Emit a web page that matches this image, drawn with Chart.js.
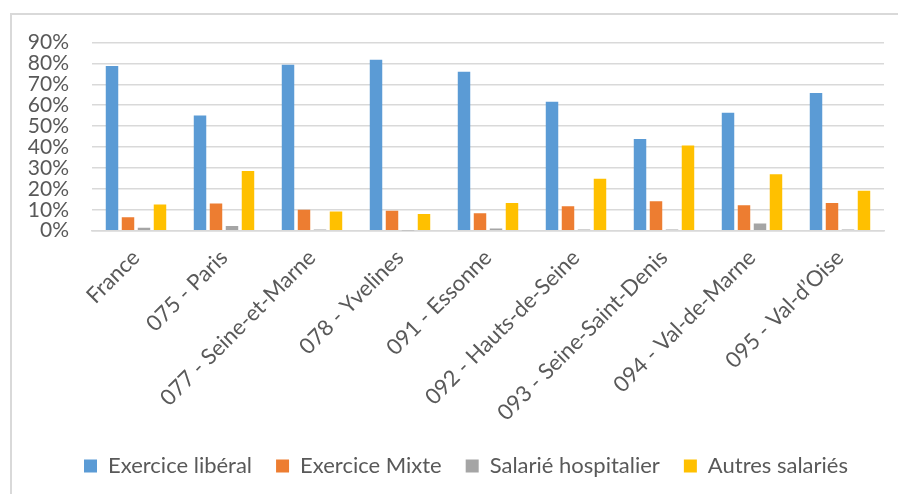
<!DOCTYPE html>
<html>
<head>
<meta charset="utf-8">
<script src="https://cdn.jsdelivr.net/npm/chart.js@4/dist/chart.umd.min.js"></script>
<style>
  html, body { margin: 0; padding: 0; background: #fff; overflow: hidden; width: 898px; height: 494px; }
  #frame { position: absolute; left: 10px; top: 13px; width: 920px; height: 500px;
           border-top: 2px solid #d9d9d9; border-left: 2px solid #d9d9d9; }
  #wrap { position: absolute; left: 0; top: 0; width: 910px; height: 472px; }
</style>
</head>
<body>
<div id="frame"><div id="wrap"><canvas id="c"></canvas></div></div>
<script>
const categories = ["France", "075 - Paris", "077 - Seine-et-Marne", "078 - Yvelines", "091 - Essonne",
  "092 - Hauts-de-Seine", "093 - Seine-Saint-Denis", "094 - Val-de-Marne", "095 - Val-d\u2019Oise"];
const seriesNames = ["Exercice libéral", "Exercice Mixte", "Salarié hospitalier", "Autres salariés"];
const exerciceLiberal    = [78.8, 55.1, 79.3, 81.7, 76.0, 61.7, 43.9, 56.4, 65.9];
const exerciceMixte      = [6.4, 13.0, 10.0, 9.5, 8.4, 11.7, 14.1, 12.2, 13.2];
const salarieHospitalier = [1.4, 2.3, 0.6, 0.1, 1.1, 0.6, 0.6, 3.5, 0.6];
const autresSalaries     = [12.5, 28.6, 9.2, 8.0, 13.2, 24.8, 40.7, 27.0, 19.1];
const yTicks = [0, 10, 20, 30, 40, 50, 60, 70, 80, 90];

const colors = ["#5B9BD5", "#ED7D31", "#A5A5A5", "#FFC000"];
const seriesValues = [exerciceLiberal, exerciceMixte, salarieHospitalier, autresSalaries];
const FONT = "Lato, 'Open Sans', sans-serif";
const TXT = "#595959";

const legendShift = {
  id: 'legendShift',
  afterLayout(chart) {
    const l = chart.legend;
    if (l) { l.left += 18; l.right += 18; }
  }
};

new Chart(document.getElementById('c'), {
  type: 'bar',
  data: {
    labels: categories,
    datasets: seriesNames.map((n, i) => ({
      label: n,
      data: seriesValues[i],
      backgroundColor: colors[i],
      borderWidth: 0,
      categoryPercentage: 0.727,
      barPercentage: 0.78
    }))
  },
  plugins: [legendShift],
  options: {
    responsive: true,
    maintainAspectRatio: false,
    animation: false,
    layout: { padding: { left: 0, right: 38, top: 27.5, bottom: 0 } },
    plugins: {
      legend: {
        position: 'bottom',
        labels: {
          font: { family: FONT, size: 22 },
          color: TXT,
          boxWidth: 13,
          boxHeight: 13,
          padding: 24
        }
      },
      tooltip: { enabled: false }
    },
    scales: {
      x: {
        grid: { display: false },
        border: { color: '#d9d9d9', width: 1.5 },
        afterFit: (axis) => { axis.height -= 1; },
        ticks: {
          font: { family: FONT, size: 22 },
          color: TXT,
          maxRotation: 45,
          minRotation: 45,
          autoSkip: false,
          padding: 6
        }
      },
      y: {
        min: 0,
        max: 90,
        afterBuildTicks: (axis) => { axis.ticks = yTicks.map(v => ({ value: v })); },
        afterFit: (axis) => { axis.width = 80; axis.paddingTop = 0; },
        grid: { color: '#d9d9d9', lineWidth: 1.5, drawTicks: false },
        border: { display: false },
        ticks: {
          font: { family: FONT, size: 21 },
          color: TXT,
          padding: 23,
          autoSkip: false,
          callback: (v) => v + '%'
        }
      }
    }
  }
});
</script>
</body>
</html>
